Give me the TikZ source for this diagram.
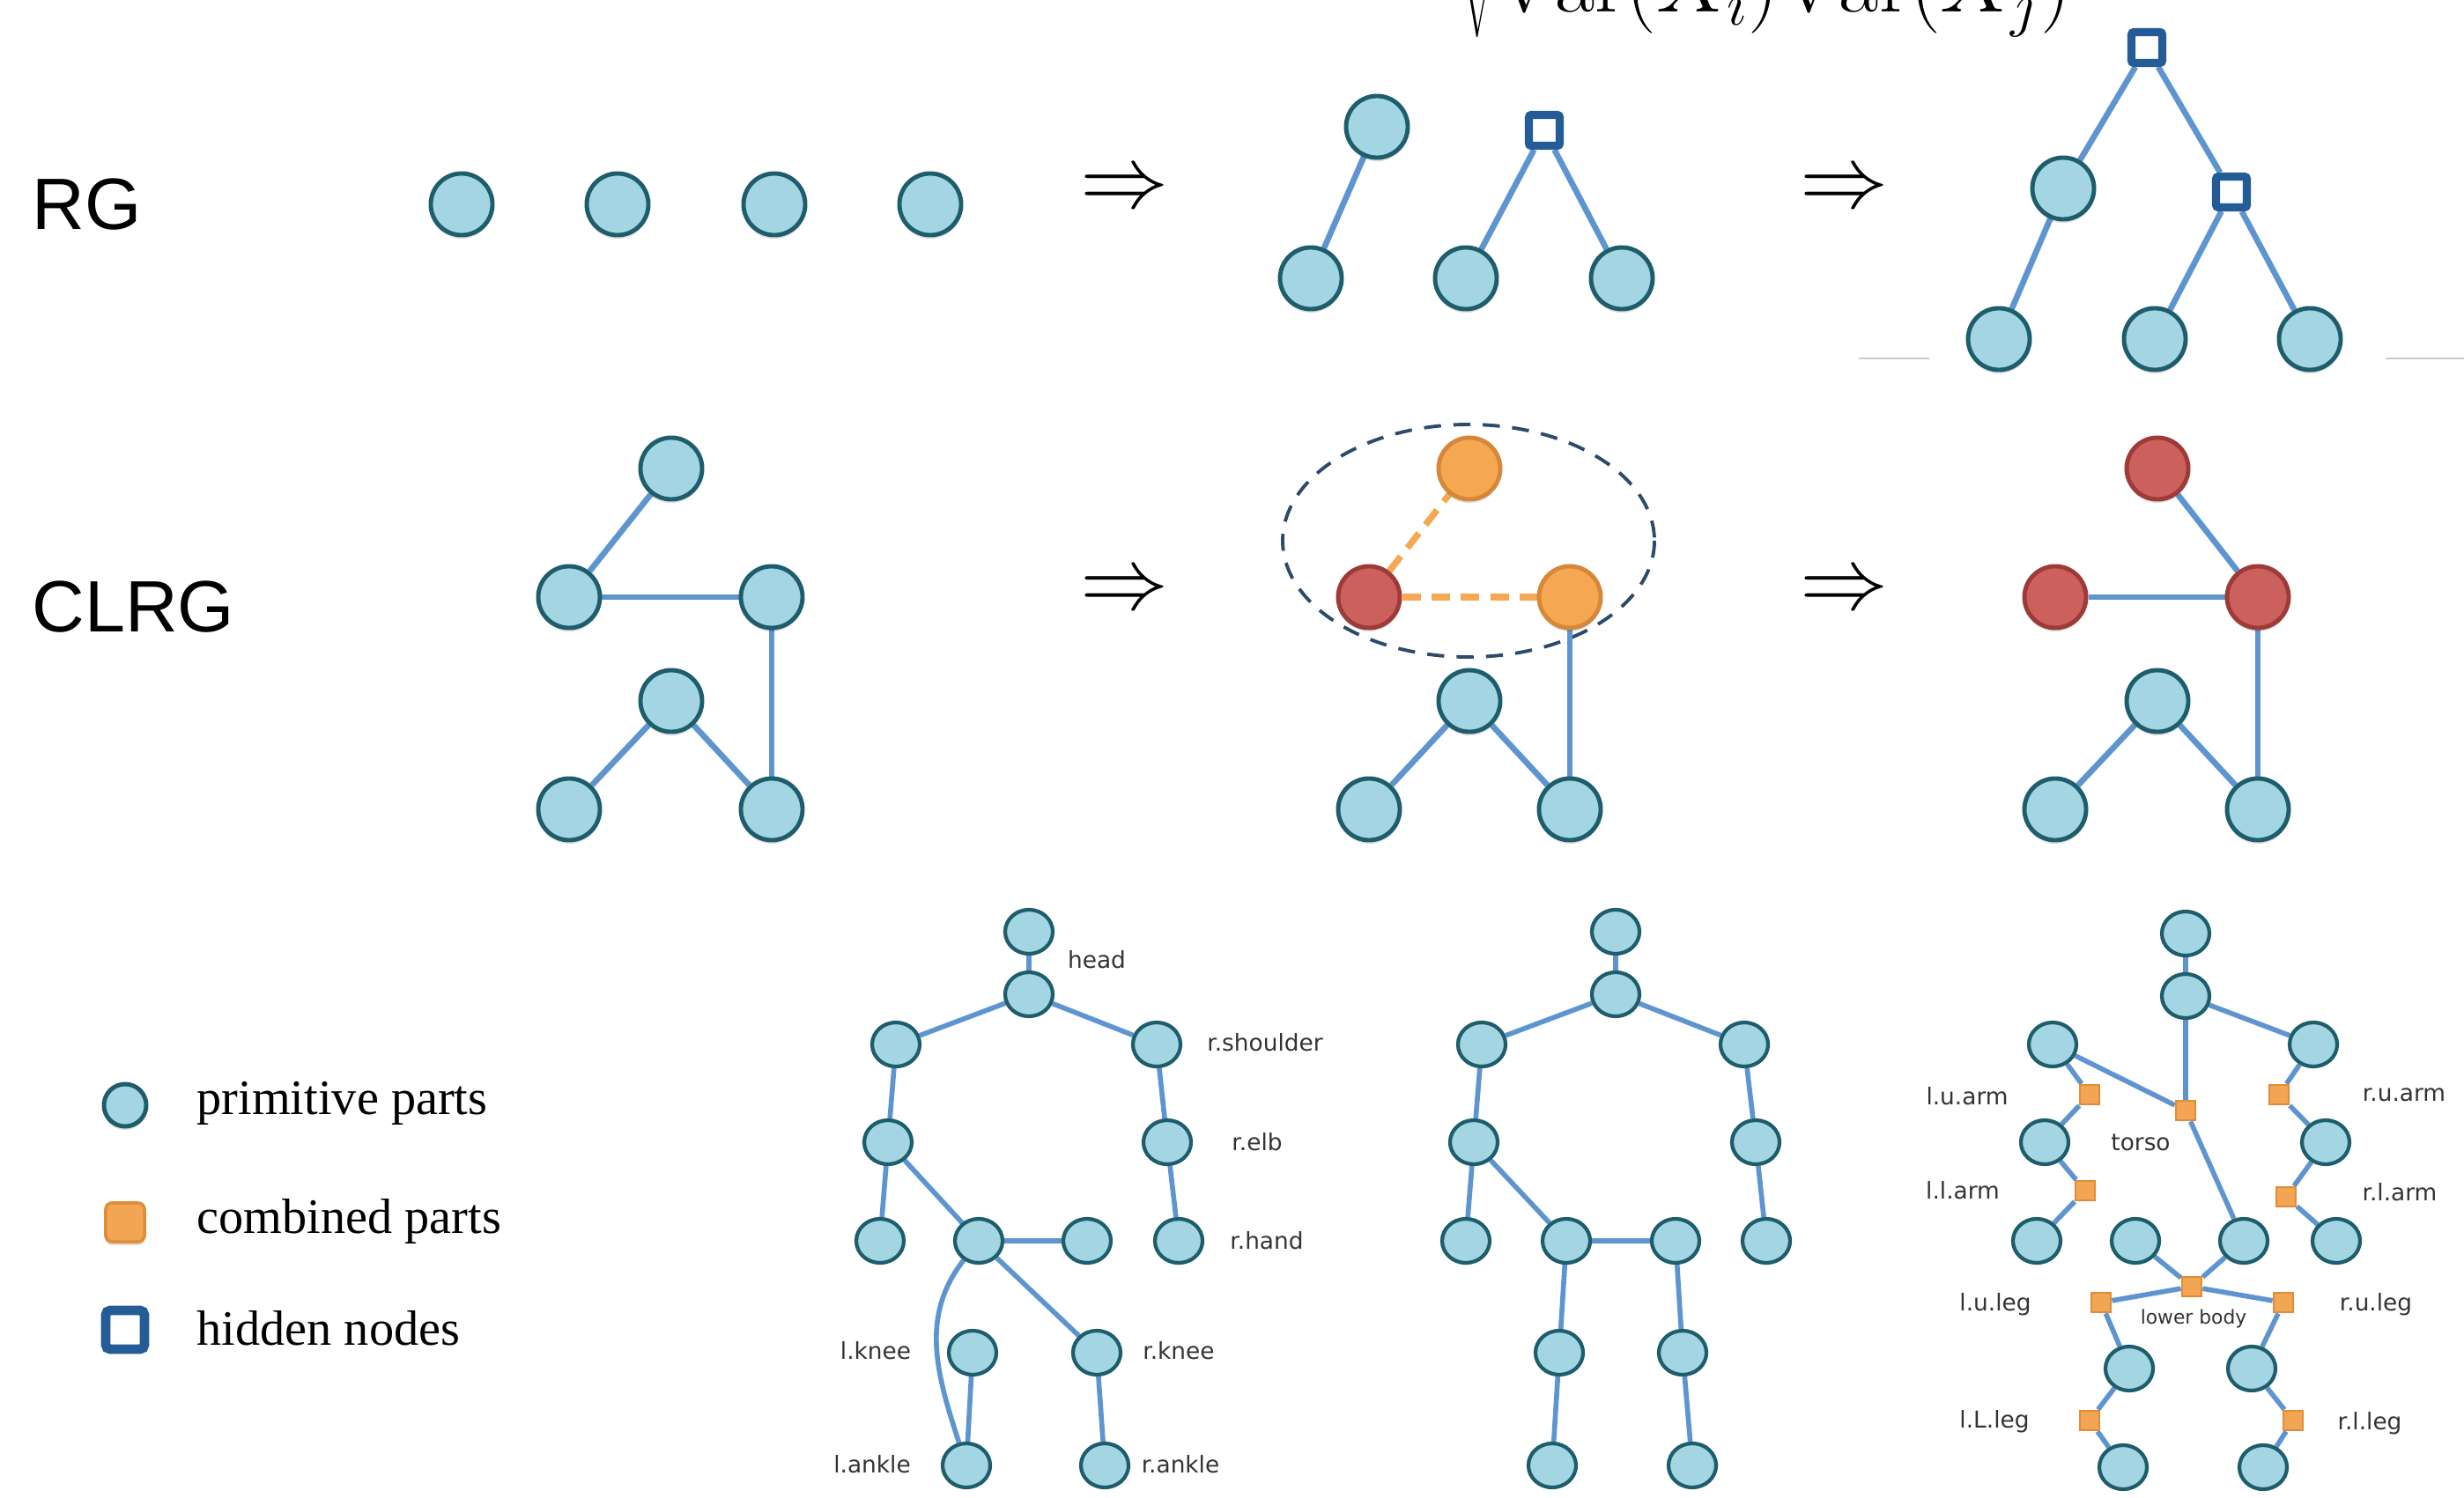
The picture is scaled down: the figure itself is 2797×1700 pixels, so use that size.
\RequirePackage{fix-cm}
\documentclass[tikz,border=0pt]{standalone}
\usepackage{fontspec}
\newfontfamily\headfont{Liberation Sans}
\newfontfamily\legfont{Liberation Serif}
\newfontfamily\tagfont{DejaVu Sans}
\usetikzlibrary{shapes.geometric,backgrounds,shadows}

\definecolor{partblue}{HTML}{A4D5E2}
\definecolor{tealline}{HTML}{1E5D6B}
\definecolor{edgeblue}{HTML}{5E95D0}
\definecolor{hidblue}{HTML}{235C96}
\definecolor{orfill}{HTML}{F5A751}
\definecolor{orline}{HTML}{D5873A}
\definecolor{redfill}{HTML}{CC605C}
\definecolor{redline}{HTML}{9C3B38}
\definecolor{groupline}{HTML}{2C4A6A}
\definecolor{rulegrey}{HTML}{CBCBCB}
\definecolor{combfill}{HTML}{F2A552}
\definecolor{combline}{HTML}{E08C38}

\tikzset{
  softshadow/.style={drop shadow={shadow xshift=0pt, shadow yshift=-1.2pt, opacity=0.12, fill=black}},
  prim/.style={circle, draw=tealline, fill=partblue, line width=1.4pt,
    minimum size=0.70cm, inner sep=0pt, softshadow},
  orn/.style={prim, draw=orline, fill=orfill},
  redn/.style={prim, draw=redline, fill=redfill},
  hid/.style={rectangle, draw=hidblue, fill=white, line width=2.6pt,
    minimum size=0.35cm, inner sep=0pt, rounded corners=0.8pt},
  link/.style={draw=edgeblue, line width=1.9pt},
  dlink/.style={draw=orfill, line width=2.1pt, dash pattern=on 6pt off 3.5pt},
  grouping/.style={draw=groupline, line width=1.1pt, dash pattern=on 5.5pt off 4pt},
  skel/.style={ellipse, draw=tealline, fill=partblue, line width=1.2pt,
    minimum width=0.54cm, minimum height=0.50cm, inner sep=0pt},
  comb/.style={rectangle, draw=combline, fill=combfill, line width=0.8pt,
    minimum size=0.22cm, inner sep=0pt},
  slink/.style={draw=edgeblue, line width=1.6pt},
  tag/.style={font=\tagfont\fontsize{7.5}{9}\selectfont, text=black!80, inner sep=0pt},
  smalltag/.style={font=\tagfont\fontsize{6.2}{7}\selectfont, text=black!80, inner sep=0pt},
  rowname/.style={font=\headfont\fontsize{23.5}{28}\selectfont, anchor=west, inner sep=0pt},
  legtext/.style={font=\legfont\fontsize{16}{19}\selectfont, anchor=base west, inner sep=0pt},
  arrowsym/.style={font=\fontsize{28.5}{34}\selectfont, inner sep=0pt},
  formula/.style={font=\fontsize{28}{34}\selectfont, inner sep=0pt}
}

\begin{document}
\begin{tikzpicture}[x=0.01cm, y=-0.01cm]
\path[use as bounding box] (0,0) rectangle (2797,1700);
\clip (0,0) rectangle (2797,1700);

% ---------- correlation formula (denominator) ----------
\node[formula, anchor=base east] (corr) at (2352,14) {$\sqrt{\mathrm{Var}(X_i)\mathrm{Var}(X_j)}$};

% ---------- row labels ----------
\node[rowname] (rg) at (36,232) {RG};
\node[rowname] (clrg) at (36,689) {CLRG};

% ---------- transformation arrows ----------
\node[arrowsym] (ar1) at (1277,217) {$\Rightarrow$};
\node[arrowsym] (ar2) at (2094,217) {$\Rightarrow$};
\node[arrowsym] (ar3) at (1277,673) {$\Rightarrow$};
\node[arrowsym] (ar4) at (2094,673) {$\Rightarrow$};

% ---------- RG: leaves ----------
\node[prim] (a1) at (524,232) {};
\node[prim] (a2) at (701,232) {};
\node[prim] (a3) at (879,232) {};
\node[prim] (a4) at (1056,232) {};

% ---------- RG: first merge ----------
\node[prim] (b1) at (1563,144) {};
\node[prim] (b2) at (1488,316) {};
\node[hid]  (bh) at (1753,148) {};
\node[prim] (b3) at (1664,316) {};
\node[prim] (b4) at (1841,316) {};

% ---------- RG: final tree ----------
\node[hid]  (ch)  at (2437,54) {};
\node[prim] (c1)  at (2342,214) {};
\node[hid]  (ch2) at (2533,218) {};
\node[prim] (c2)  at (2269,385) {};
\node[prim] (c3)  at (2446,385) {};
\node[prim] (c4)  at (2622,385) {};
\coordinate (gl1) at (2110,407); \coordinate (gl2) at (2190,407);
\coordinate (gr1) at (2708,407); \coordinate (gr2) at (2797,407);

% ---------- CLRG: input graph ----------
\node[prim] (d1) at (762,532) {};
\node[prim] (d2) at (646,678) {};
\node[prim] (d3) at (876,678) {};
\node[prim] (d4) at (762,796) {};
\node[prim] (d5) at (646,919) {};
\node[prim] (d6) at (876,919) {};

% ---------- CLRG: grouping step ----------
\coordinate (grp) at (1667,614);
\node[orn]  (e1) at (1668,532) {};
\node[redn] (e2) at (1554,678) {};
\node[orn]  (e3) at (1782,678) {};
\node[prim] (e4) at (1668,796) {};
\node[prim] (e5) at (1554,919) {};
\node[prim] (e6) at (1782,919) {};

% ---------- CLRG: result ----------
\node[redn] (f1) at (2449,532) {};
\node[redn] (f2) at (2333,678) {};
\node[redn] (f3) at (2563,678) {};
\node[prim] (f4) at (2449,796) {};
\node[prim] (f5) at (2333,919) {};
\node[prim] (f6) at (2563,919) {};

% ---------- legend ----------
\node[prim, minimum size=0.48cm] (lg1) at (142,1255) {};
\node[comb, minimum size=0.44cm, line width=1pt, rounded corners=2pt, softshadow] (lg2) at (142,1388) {};
\node[hid, minimum size=0.44cm, line width=3.1pt, rounded corners=1.5pt] (lg3) at (142,1510) {};
\node[legtext] (lt1) at (223,1265) {primitive parts};
\node[legtext] (lt2) at (223,1400) {combined parts};
\node[legtext] (lt3) at (223,1527) {hidden nodes};

% ---------- skeleton with part names ----------
\node[skel] (kh)  at (1168,1058) {};
\node[skel] (kn)  at (1168,1129) {};
\node[skel] (kls) at (1017,1186) {};
\node[skel] (krs) at (1313,1186) {};
\node[skel] (kle) at (1008,1297) {};
\node[skel] (kre) at (1325,1297) {};
\node[skel] (klh) at (999,1409) {};
\node[skel] (kt)  at (1111,1409) {};
\node[skel] (kx)  at (1234,1409) {};
\node[skel] (krh) at (1338,1409) {};
\node[skel] (klk) at (1104,1536) {};
\node[skel] (krk) at (1245,1536) {};
\node[skel] (kla) at (1097,1664) {};
\node[skel] (kra) at (1254,1664) {};
\node[tag] (t1) at (1245,1090) {head};
\node[tag] (t2) at (1436,1184) {r.shoulder};
\node[tag] (t3) at (1427,1297) {r.elb};
\node[tag] (t4) at (1438,1409) {r.hand};
\node[tag] (t5) at (994,1534) {l.knee};
\node[tag] (t6) at (1338,1534) {r.knee};
\node[tag] (t7) at (990,1663) {l.ankle};
\node[tag] (t8) at (1340,1663) {r.ankle};

% ---------- plain skeleton ----------
\node[skel] (mh)  at (1834,1058) {};
\node[skel] (mn)  at (1834,1129) {};
\node[skel] (mls) at (1682,1186) {};
\node[skel] (mrs) at (1980,1186) {};
\node[skel] (mle) at (1673,1297) {};
\node[skel] (mre) at (1993,1297) {};
\node[skel] (mlh) at (1664,1409) {};
\node[skel] (mhl) at (1778,1409) {};
\node[skel] (mhr) at (1902,1409) {};
\node[skel] (mrh) at (2005,1409) {};
\node[skel] (mlk) at (1770,1536) {};
\node[skel] (mrk) at (1910,1536) {};
\node[skel] (mla) at (1762,1664) {};
\node[skel] (mra) at (1921,1664) {};

% ---------- skeleton with combined parts ----------
\node[skel] (ph)  at (2481,1060) {};
\node[skel] (pn)  at (2481,1131) {};
\node[skel] (pls) at (2330,1186) {};
\node[skel] (prs) at (2626,1186) {};
\node[skel] (ple) at (2321,1297) {};
\node[skel] (pre) at (2640,1297) {};
\node[skel] (plh) at (2312,1409) {};
\node[skel] (phl) at (2424,1409) {};
\node[skel] (phr) at (2547,1409) {};
\node[skel] (prh) at (2652,1409) {};
\node[skel] (plk) at (2417,1554) {};
\node[skel] (prk) at (2556,1554) {};
\node[skel] (pla) at (2410,1666) {};
\node[skel] (pra) at (2569,1666) {};
\node[comb] (qlu)  at (2372,1243) {};
\node[comb] (qt)   at (2481,1261) {};
\node[comb] (qru)  at (2587,1243) {};
\node[comb] (qll)  at (2367,1352) {};
\node[comb] (qrl)  at (2595,1359) {};
\node[comb] (qb)   at (2488,1461) {};
\node[comb] (qlul) at (2385,1479) {};
\node[comb] (qrul) at (2592,1479) {};
\node[comb] (qlll) at (2372,1613) {};
\node[comb] (qrll) at (2603,1613) {};
\node[tag] (u1) at (2233,1245) {l.u.arm};
\node[tag] (u2) at (2430,1297) {torso};
\node[tag] (u3) at (2729,1243) {r.u.arm};
\node[tag] (u4) at (2228,1352) {l.l.arm};
\node[tag] (u5) at (2724,1354) {r.l.arm};
\node[tag] (u6) at (2265,1481) {l.u.leg};
\node[smalltag] (u7) at (2490,1497) {lower body};
\node[tag] (u8) at (2697,1481) {r.u.leg};
\node[tag] (u9) at (2264,1614) {l.L.leg};
\node[tag] (u10) at (2690,1616) {r.l.leg};

% ---------- connectors (behind the nodes) ----------
\begin{pgfonlayer}{background}
  \fill[white] (0,0) rectangle (2797,1700);
  \draw[rulegrey, line width=0.6pt] (gl1) -- (gl2);
  \draw[rulegrey, line width=0.6pt] (gr1) -- (gr2);
  % RG
  \path[link] (b1) -- (b2);
  \path[link] (bh) -- (b3);
  \path[link] (bh) -- (b4);
  \path[link] (ch) -- (c1);
  \path[link] (ch) -- (ch2);
  \path[link] (c1) -- (c2);
  \path[link] (ch2) -- (c3);
  \path[link] (ch2) -- (c4);
  % CLRG
  \path[link] (d1) -- (d2);
  \path[link] (d2) -- (d3);
  \path[link] (d3) -- (d6);
  \path[link] (d4) -- (d5);
  \path[link] (d4) -- (d6);
  \path[grouping] (grp) ellipse[x radius=211, y radius=132];
  \path[dlink] (e2) -- (e1);
  \path[dlink] (e2) -- (e3);
  \path[link] (e3) -- (e6);
  \path[link] (e4) -- (e5);
  \path[link] (e4) -- (e6);
  \path[link] (f1) -- (f3);
  \path[link] (f2) -- (f3);
  \path[link] (f3) -- (f6);
  \path[link] (f4) -- (f5);
  \path[link] (f4) -- (f6);
  % named skeleton
  \path[slink] (kh) -- (kn);
  \path[slink] (kn) -- (kls);
  \path[slink] (kn) -- (krs);
  \path[slink] (kls) -- (kle);
  \path[slink] (kle) -- (klh);
  \path[slink] (kle) -- (kt);
  \path[slink] (kt) -- (kx);
  \path[slink] (krs) -- (kre);
  \path[slink] (kre) -- (krh);
  \path[slink] (kt) -- (krk);
  \path[slink] (kt) to[out=232, in=108] (kla);
  \path[slink] (klk) -- (kla);
  \path[slink] (krk) -- (kra);
  % plain skeleton
  \path[slink] (mh) -- (mn);
  \path[slink] (mn) -- (mls);
  \path[slink] (mn) -- (mrs);
  \path[slink] (mls) -- (mle);
  \path[slink] (mle) -- (mlh);
  \path[slink] (mle) -- (mhl);
  \path[slink] (mhl) -- (mhr);
  \path[slink] (mrs) -- (mre);
  \path[slink] (mre) -- (mrh);
  \path[slink] (mhl) -- (mlk);
  \path[slink] (mlk) -- (mla);
  \path[slink] (mhr) -- (mrk);
  \path[slink] (mrk) -- (mra);
  % combined-part skeleton
  \path[slink] (ph) -- (pn);
  \path[slink] (pn) -- (qt);
  \path[slink] (pn) -- (prs);
  \path[slink] (pls) -- (qt);
  \path[slink] (qt) -- (phr);
  \path[slink] (pls) -- (qlu);
  \path[slink] (qlu) -- (ple);
  \path[slink] (ple) -- (qll);
  \path[slink] (qll) -- (plh);
  \path[slink] (prs) -- (qru);
  \path[slink] (qru) -- (pre);
  \path[slink] (pre) -- (qrl);
  \path[slink] (qrl) -- (prh);
  \path[slink] (phl) -- (qb);
  \path[slink] (phr) -- (qb);
  \path[slink] (qb) -- (qlul);
  \path[slink] (qb) -- (qrul);
  \path[slink] (qlul) -- (plk);
  \path[slink] (plk) -- (qlll);
  \path[slink] (qlll) -- (pla);
  \path[slink] (qrul) -- (prk);
  \path[slink] (prk) -- (qrll);
  \path[slink] (qrll) -- (pra);
\end{pgfonlayer}
\end{tikzpicture}
\end{document}
